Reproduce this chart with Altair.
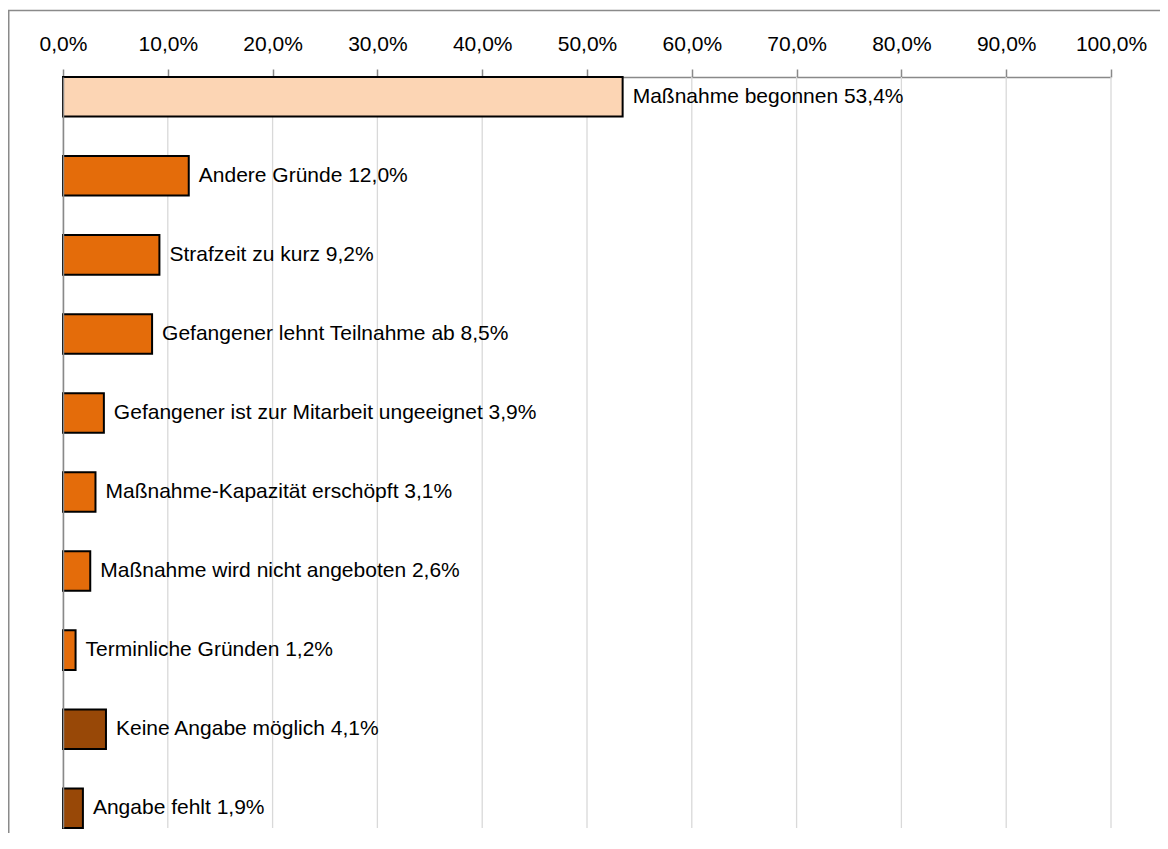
import altair as alt
import pandas as pd

categories = [
    "Maßnahme begonnen",
    "Andere Gründe",
    "Strafzeit zu kurz",
    "Gefangener lehnt Teilnahme ab",
    "Gefangener ist zur Mitarbeit ungeeignet",
    "Maßnahme-Kapazität erschöpft",
    "Maßnahme wird nicht angeboten",
    "Terminliche Gründen",
    "Keine Angabe möglich",
    "Angabe fehlt",
]
values = [53.4, 12.0, 9.2, 8.5, 3.9, 3.1, 2.6, 1.2, 4.1, 1.9]
groups = ["begonnen", "Grund", "Grund", "Grund", "Grund", "Grund", "Grund", "Grund", "fehlt", "fehlt"]
group_colors = {"begonnen": "#FCD5B4", "Grund": "#E46C0A", "fehlt": "#984807"}
tick_values = [0, 10, 20, 30, 40, 50, 60, 70, 80, 90, 100]

FONT = "Liberation Sans"
FS = 21

df = pd.DataFrame({
    "cat": categories,
    "val": values,
    "grp": groups,
    "label": [f"{c} {v:.1f}%".replace(".", ",") for c, v in zip(categories, values)],
})

W, H = 1048, 751

x_scale = alt.Scale(domain=[0, 100], nice=False, zero=True)
y_scale = alt.Scale(paddingInner=0.5, paddingOuter=0.0)

x_axis = alt.Axis(
    orient="top", values=tick_values, title=None, grid=False,
    labelExpr="replace(format(datum.value, '.1f'), '.', ',') + '%'",
    labelFont=FONT, labelFontSize=FS, labelColor="#000000",
    labelPadding=19, labelBaseline="alphabetic", labelFlush=False,
    labelOverlap=False,
    tickSize=8, tickColor="#898989", tickWidth=1.5,
    domainColor="#898989", domainWidth=1.5,
)

base = alt.Chart(df)
one = pd.DataFrame({"a": [0]})

frame_left = alt.Chart(one).mark_rule(color="#8A8A8A", strokeWidth=1.5, clip=False).encode(
    x=alt.value(-54.25), y=alt.value(-67), y2=alt.value(1000),
)
frame_top = alt.Chart(one).mark_rule(color="#8A8A8A", strokeWidth=1.5, clip=False).encode(
    x=alt.value(-55), x2=alt.value(1300), y=alt.value(-66.4),
)

grid = alt.Chart(pd.DataFrame({"t": tick_values})).mark_rule(
    color="#D9D9D9", strokeWidth=1.3
).encode(
    x=alt.X("t:Q", scale=x_scale, axis=x_axis),
    y=alt.value(0), y2=alt.value(H),
)

bars = base.mark_bar(stroke="#000000", strokeWidth=2).encode(
    x=alt.X("val:Q", scale=x_scale, axis=x_axis),
    y=alt.Y(
        "cat:N", sort=categories, scale=y_scale,
        axis=alt.Axis(
            title=None, labels=False, ticks=False, grid=False,
            domainColor="#898989", domainWidth=1.5, zindex=1,
        ),
    ),
    color=alt.Color(
        "grp:N",
        scale=alt.Scale(domain=list(group_colors.keys()), range=list(group_colors.values())),
        legend=None,
    ),
)

labels = base.mark_text(
    align="left", baseline="middle", dx=10, dy=0,
    font=FONT, fontSize=FS, color="#000000",
).encode(
    x=alt.X("val:Q", scale=x_scale, axis=x_axis),
    y=alt.Y("cat:N", sort=categories, scale=y_scale),
    text="label:N",
)

chart = alt.layer(grid, bars, labels, frame_left, frame_top).properties(
    width=W, height=H,
    background="white",
    autosize=alt.AutoSizeParams(type="none"),
    padding={"left": 55, "top": 69, "right": 49, "bottom": 5},
).configure_view(stroke=None)

chart.save("out.html", embed_options={"renderer": "svg", "actions": False})
